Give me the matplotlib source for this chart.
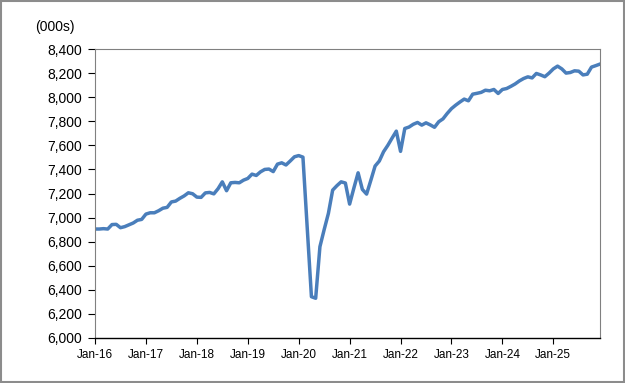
import matplotlib
matplotlib.use("Agg")
import matplotlib.pyplot as plt
from matplotlib.patches import Rectangle
from matplotlib.ticker import FuncFormatter

# monthly employment, Jan-16 .. Dec-25 (thousands)
y2016 = [6905, 6905, 6908, 6905, 6942, 6944, 6916, 6925, 6940, 6955, 6978, 6985]
y2017 = [7029, 7040, 7040, 7057, 7078, 7085, 7130, 7137, 7160, 7180, 7206, 7198]
y2018 = [7170, 7168, 7205, 7209, 7197, 7240, 7297, 7223, 7289, 7292, 7289, 7311]
y2019 = [7325, 7361, 7350, 7380, 7400, 7403, 7382, 7444, 7455, 7437, 7470, 7505]
y2020 = [7515, 7502, 6920, 6343, 6330, 6758, 6900, 7035, 7228, 7265, 7297, 7287]
y2021 = [7112, 7245, 7372, 7234, 7195, 7310, 7428, 7470, 7547, 7600, 7660, 7718]
y2022 = [7550, 7740, 7752, 7775, 7790, 7768, 7787, 7770, 7750, 7796, 7820, 7865]
y2023 = [7905, 7934, 7960, 7984, 7970, 8025, 8032, 8040, 8058, 8053, 8064, 8031]
y2024 = [8064, 8072, 8090, 8110, 8135, 8155, 8169, 8160, 8197, 8185, 8170, 8200]
y2025 = [8235, 8258, 8235, 8200, 8205, 8219, 8216, 8185, 8191, 8250, 8262, 8275]

values = y2016 + y2017 + y2018 + y2019 + y2020 + y2021 + y2022 + y2023 + y2024 + y2025
months = list(range(len(values)))
year_labels = ["Jan-16", "Jan-17", "Jan-18", "Jan-19", "Jan-20",
               "Jan-21", "Jan-22", "Jan-23", "Jan-24", "Jan-25"]
year_ticks = [12 * i for i in range(len(year_labels))]

plt.rcParams["font.family"] = ["Liberation Sans", "DejaVu Sans"]

fig = plt.figure(figsize=(6.25, 3.83), dpi=100)
ax = fig.add_axes([0.152, 0.1175, 0.808, 0.7545])

ax.plot(months, values, color="#4a7ebb", linewidth=2.5, solid_joinstyle="round")

ax.set_xlim(0, len(values) - 1)
ax.set_ylim(6000, 8400)
ax.set_yticks(range(6000, 8401, 200))
ax.yaxis.set_major_formatter(FuncFormatter(lambda v, p: f"{int(v):,}"))
ax.set_xticks(year_ticks)
ax.set_xticklabels(year_labels, family=["Liberation Sans Narrow", "Liberation Sans"], fontsize=8.5)

ax.tick_params(axis="y", direction="out", length=5, width=0.8, labelsize=10, pad=4, colors="black")
ax.tick_params(axis="x", direction="out", length=4, width=0.8, pad=4, colors="black")

for side in ["top", "right", "left"]:
    ax.spines[side].set_color("#808080")
    ax.spines[side].set_linewidth(0.8)
ax.spines["bottom"].set_color("black")
ax.spines["bottom"].set_linewidth(1.0)

fig.text(0.057, 0.93, "(000s)", fontsize=10, ha="left", va="center")

fig.patches.append(Rectangle((0.002, 0.003), 0.996, 0.994, transform=fig.transFigure,
                             fill=False, edgecolor="#8c8c8c", linewidth=1.5))

fig.savefig("out.png", dpi=100)
